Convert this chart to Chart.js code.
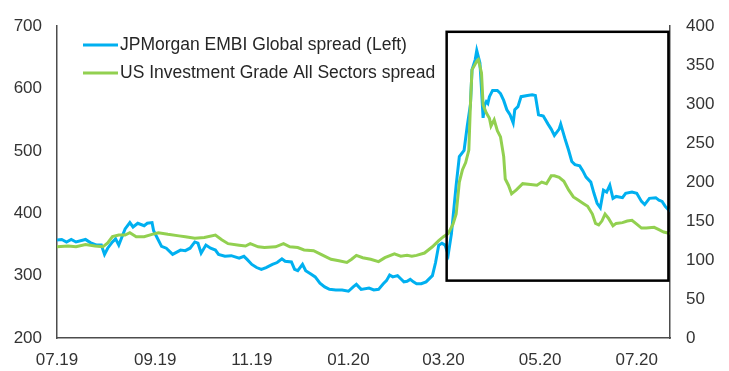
<!DOCTYPE html>
<html>
<head>
<meta charset="utf-8">
<script src="https://cdn.jsdelivr.net/npm/chart.js@4"></script>
<style>
html,body{margin:0;padding:0;background:#fff;}
#wrap{width:729px;height:371px;position:relative;}
</style>
</head>
<body>
<div id="wrap"><canvas id="c"></canvas></div>
<script>
// Days since 01.07.2019
const tickDays = [0, 62, 123, 184, 244, 305, 366];
const tickLabels = ['07.19', '09.19', '11.19', '01.20', '03.20', '05.20', '07.20'];

const embiLabel = 'JPMorgan EMBI Global spread (Left)';
const embiDays = [0,3,6,9,12,18,21,25,28,30,32,35,37,39,41,43,46,48,51,55,57,60,61,63,66,69,73,78,81,84,87,89,91,94,97,100,102,106,110,115,118,120,123,126,129,132,136,139,142,144,148,150,152,155,157,160,163,166,169,172,176,180,184,187,189,192,197,200,203,206,208,210,212,215,217,219,221,223,225,227,230,233,237,239,241,243,245,246,247,249,251,252,254,257,259,261,262,264,265,267,268,269,270,271,272,273,275,278,280,282,284,286,288,289,291,293,297,300,302,304,307,310,312,314,317,318,321,323,325,327,330,332,334,337,339,341,343,345,347,349,351,353,357,359,363,366,369,371,374,378,380,382,384,387];
const embiValues = [357,358,354,358,354,358,353,349,349,334,344,354,359,349,362,375,385,378,384,380,384,385,372,362,347,344,334,341,340,344,354,352,336,349,344,341,334,331,332,328,331,326,318,313,310,313,318,321,327,323,322,310,308,318,308,303,298,288,282,278,277,277,275,282,286,278,280,277,278,287,292,301,298,300,295,290,291,294,290,287,287,290,300,321,349,352,349,341,334,367,419,445,491,501,540,574,630,646,661,641,599,553,574,579,576,587,597,597,592,581,566,558,545,566,571,587,589,590,589,558,556,543,535,525,535,543,517,501,483,478,476,468,458,450,432,416,409,437,434,445,424,427,425,432,434,432,419,414,424,425,421,419,411,403];

const igLabel = 'US Investment Grade All Sectors spread';
const igDays = [0,7,12,18,24,29,32,35,39,43,46,50,55,60,64,70,77,81,87,93,100,104,108,115,119,122,127,131,138,143,147,152,156,162,167,173,178,183,186,189,193,198,203,207,213,217,221,224,227,232,237,241,244,247,250,252,254,256,258,260,261,262,265,266,268,269,271,273,274,276,278,280,282,283,285,287,290,294,299,303,306,309,312,314,317,320,323,326,329,332,335,338,340,342,344,346,348,351,353,357,360,363,366,369,372,377,380,383,385,387];
const igValues = [117,118,117,120,118,117,122,130,132,132,135,130,130,133,135,133,131,130,128,129,132,126,121,119,118,121,117,116,117,121,117,116,113,112,107,101,99,97,101,106,103,101,98,103,108,105,106,105,106,109,117,125,130,134,146,159,200,216,225,241,299,344,355,357,340,299,289,282,272,280,266,258,233,204,196,185,190,198,197,196,200,198,208,208,206,201,190,181,177,173,169,159,147,145,150,159,154,144,147,148,150,151,146,141,141,142,139,136,135,134];

// Highlight box, in data units (days, left-axis value)
const boxDays = [246, 386];
const boxLeftValues = [292, 691];

const leftTicks = [200, 300, 400, 500, 600, 700];
const rightTicks = [0, 50, 100, 150, 200, 250, 300, 350, 400];

const blue = '#00B0F0';
const green = '#92D050';
const FONT = "'Liberation Sans', Arial, sans-serif";

const toPoints = (d, v) => d.map((x, i) => ({x: x, y: v[i]}));

const boxPlugin = {
  id: 'box',
  afterDatasetsDraw(chart) {
    const {ctx, scales} = chart;
    const x0 = scales.x.getPixelForValue(boxDays[0]);
    const x1 = scales.x.getPixelForValue(boxDays[1]);
    const y0 = scales.y.getPixelForValue(boxLeftValues[1]);
    const y1 = scales.y.getPixelForValue(boxLeftValues[0]);
    ctx.save();
    ctx.strokeStyle = '#000';
    ctx.lineWidth = 2.5;
    ctx.strokeRect(x0, y0, x1 - x0, y1 - y0);
    ctx.restore();
  }
};

const legendPlugin = {
  id: 'inlegend',
  afterDraw(chart) {
    const {ctx} = chart;
    ctx.save();
    ctx.font = '17.5px ' + FONT;
    ctx.textBaseline = 'middle';
    ctx.fillStyle = '#262626';
    const rows = [[embiLabel, blue, 45], [igLabel, green, 73]];
    rows.forEach(([t, c, y]) => {
      ctx.strokeStyle = c;
      ctx.lineWidth = 3;
      ctx.beginPath();
      ctx.moveTo(83, y);
      ctx.lineTo(118, y);
      ctx.stroke();
      ctx.fillText(t, 120, y + 0.5);
    });
    ctx.restore();
  }
};

const axisGrid = {display: false, drawTicks: false};

new Chart(document.getElementById('c'), {
  type: 'line',
  data: {
    datasets: [
      {label: embiLabel, data: toPoints(embiDays, embiValues), yAxisID: 'y', borderColor: blue, borderWidth: 3, pointRadius: 0, tension: 0, order: 1},
      {label: igLabel, data: toPoints(igDays, igValues), yAxisID: 'y1', borderColor: green, borderWidth: 3, pointRadius: 0, tension: 0, order: 0}
    ]
  },
  options: {
    responsive: true,
    maintainAspectRatio: false,
    animation: false,
    layout: {padding: {top: 15, left: 0, right: 0, bottom: 0}},
    plugins: {legend: {display: false}, tooltip: {enabled: false}},
    scales: {
      x: {
        type: 'linear', min: 0, max: 387,
        grid: axisGrid,
        border: {display: true, color: '#4d4d4d', width: 1.5},
        afterBuildTicks: s => { s.ticks = tickDays.map(v => ({value: v})); },
        afterFit: s => { s.height = 33; },
        ticks: {
          autoSkip: false, maxRotation: 0, padding: 12, color: '#333',
          font: {family: FONT, size: 17},
          callback: (v) => { const i = tickDays.indexOf(v); return i >= 0 ? tickLabels[i] : ''; }
        }
      },
      y: {
        type: 'linear', position: 'left', min: 200, max: 700,
        grid: axisGrid,
        border: {display: true, color: '#4d4d4d', width: 1.5},
        afterBuildTicks: s => { s.ticks = leftTicks.map(v => ({value: v})); },
        afterFit: s => { s.width = 57; },
        ticks: {padding: 15, color: '#333', font: {family: FONT, size: 17}}
      },
      y1: {
        type: 'linear', position: 'right', min: 0, max: 400,
        grid: axisGrid,
        border: {display: true, color: '#4d4d4d', width: 1.5},
        afterBuildTicks: s => { s.ticks = rightTicks.map(v => ({value: v})); },
        afterFit: s => { s.width = 59; },
        ticks: {padding: 16, color: '#333', font: {family: FONT, size: 17}}
      }
    }
  },
  plugins: [boxPlugin, legendPlugin]
});
</script>
</body>
</html>
